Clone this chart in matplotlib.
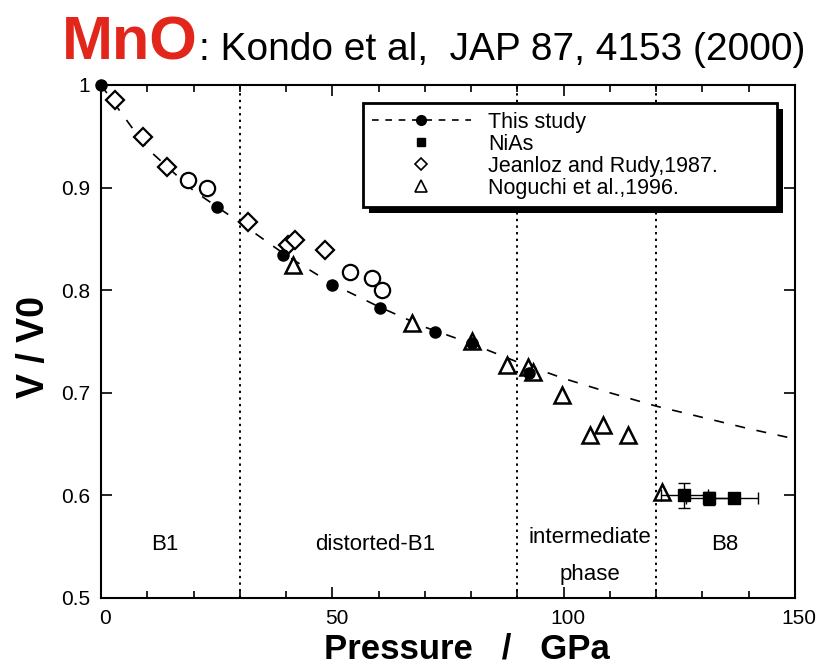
import matplotlib
matplotlib.use("Agg")
import matplotlib.pyplot as plt
from matplotlib.lines import Line2D
from matplotlib.patches import Rectangle
from matplotlib.transforms import ScaledTranslation, IdentityTransform

plt.rcParams['font.family'] = ['Liberation Sans', 'DejaVu Sans']

# Fitted equation of state (this study), B1 / distorted-B1 range
fit_p = [0, 10, 20, 30, 40, 50, 60, 70, 80, 90, 100, 110, 120, 130, 140, 150]
fit_v = [1.000, 0.938, 0.897, 0.866, 0.834, 0.806, 0.784, 0.764, 0.748, 0.730,
         0.714, 0.700, 0.687, 0.676, 0.665, 0.655]

# This study: measured points
study_p = [0.0, 25.1, 39.3, 49.9, 60.3, 72.1, 80.1, 92.5]
study_v = [1.000, 0.881, 0.834, 0.805, 0.783, 0.759, 0.749, 0.719]

# NiAs (B8) phase
nias_p = [126.1, 131.5, 136.9]
nias_v = [0.600, 0.597, 0.597]
nias_perr = [5.0, 5.0, 5.0]
nias_verr = [0.012, 0.006, 0.004]

# Jeanloz and Rudy, 1987
jr_p = [3.0, 9.1, 14.3, 31.7, 40.4, 41.9, 48.4]
jr_v = [0.985, 0.949, 0.920, 0.866, 0.844, 0.849, 0.839]
jr_round_p = [18.8, 22.9, 53.8, 58.5, 60.7]
jr_round_v = [0.907, 0.900, 0.818, 0.812, 0.800]

# Noguchi et al., 1996
ng_p = [41.5, 67.2, 80.1, 87.7, 92.2, 93.3, 99.6, 105.6, 108.4, 113.8, 121.2]
ng_v = [0.825, 0.768, 0.750, 0.727, 0.725, 0.720, 0.698, 0.659, 0.669, 0.659, 0.603]

# Phase boundaries and labels
boundaries = [30, 90, 120]
phase_labels = [("B1", 13.8, 0.552), ("distorted-B1", 59.2, 0.552),
                ("intermediate", 105.6, 0.559), ("phase", 105.6, 0.523),
                ("B8", 134.8, 0.552)]

xticks = [0, 50, 100, 150]
yticks = [0.5, 0.6, 0.7, 0.8, 0.9, 1.0]
yticklabels = ["0.5", "0.6", "0.7", "0.8", "0.9", "1"]

fig = plt.figure(figsize=(8.29, 6.68), dpi=100)
ax = fig.add_axes([0.1218, 0.1048, 0.8372, 0.768])

for b in boundaries:
    ax.axvline(b, color='black', ls=(0, (1.2, 2.2)), lw=1.4, zorder=1)

ax.plot(fit_p, fit_v, color='black', lw=1.2, ls=(0, (6, 7)), zorder=2)
ax.plot(study_p, study_v, 'o', color='black', ms=8, zorder=4, clip_on=False)
ax.errorbar(nias_p, nias_v, xerr=nias_perr, yerr=nias_verr, fmt='s',
            color='black', ms=9, elinewidth=1.0, capsize=4, zorder=4)
ax.plot(jr_p, jr_v, 'D', mfc='white', mec='black', mew=1.6, ms=9, zorder=3)
ax.plot(jr_round_p, jr_round_v, 'o', mfc='white', mec='black', mew=1.6, ms=11, zorder=3)
ax.plot(ng_p, ng_v, '^', mfc='white', mec='black', mew=1.8, ms=12, zorder=3)

for txt, x, y in phase_labels:
    ax.text(x, y, txt, ha='center', va='center', fontsize=16)

ax.set_xlim(0, 150)
ax.set_ylim(0.5, 1.0)
ax.set_xticks(xticks)
ax.set_xticks(range(0, 151, 10), minor=True)
ax.set_yticks(yticks)
ax.set_yticklabels(yticklabels)
ax.tick_params(which='both', direction='in', top=True, right=True,
               labelsize=15, width=1.2)
ax.tick_params(which='major', length=8, pad=8)
ax.tick_params(which='minor', length=5)
for sp in ax.spines.values():
    sp.set_linewidth(1.5)

for lab in ax.get_xticklabels():
    lab.set_transform(lab.get_transform() + ScaledTranslation(3 / 72, 0, fig.dpi_scale_trans))

ax.set_xlabel("Pressure   /   GPa", fontsize=25, fontweight='bold')
ax.xaxis.set_label_coords(0.527, -0.068)
ax.set_ylabel("V / V0", fontsize=27, fontweight='bold')
ax.yaxis.set_label_coords(-0.07, 0.49)

handles = [
    Line2D([], [], color='black', ls=(0, (4, 4)), lw=1.2, marker='o', ms=7),
    Line2D([], [], color='black', ls='none', marker='s', ms=6),
    Line2D([], [], color='black', ls='none', marker='D', mfc='white', ms=6, mew=1.2),
    Line2D([], [], color='black', ls='none', marker='^', mfc='white', ms=8, mew=1.2),
]
labels = ["This study", "NiAs", "Jeanloz and Rudy,1987.", "Noguchi et al.,1996."]
leg = ax.legend(handles, labels, loc='upper left',
                bbox_to_anchor=(0.378, 0.758, 0.596, 0.207), mode='expand',
                fontsize=15.5, frameon=True, fancybox=False, edgecolor='black',
                framealpha=1, borderpad=0.4, labelspacing=0.05,
                handlelength=4.6, handletextpad=0.8, borderaxespad=0)
leg.get_frame().set_linewidth(2.0)
leg.set_zorder(6)

# Title: red compound name followed by the reference
t1 = fig.text(62 / 829, 1 - 60 / 668, "MnO", color='#e3261c', fontsize=44,
              fontweight='bold', va='baseline', ha='left')
fig.canvas.draw()
r = fig.canvas.get_renderer()
bb = t1.get_window_extent(r)
fig.text((bb.x1 + 1) / fig.bbox.width, 1 - 60 / 668,
         ": Kondo et al,  JAP 87, 4153 (2000)", color='black', fontsize=28,
         va='baseline', ha='left')

# Solid drop shadow behind the legend box
lb = leg.get_window_extent(r)
shadow = Rectangle((lb.x0 + 6, lb.y0 - 6), lb.width, lb.height,
                   transform=IdentityTransform(), facecolor='black',
                   edgecolor='none', zorder=5.5, clip_on=False)
ax.add_artist(shadow)

fig.savefig("out.png", dpi=100, facecolor='white')
